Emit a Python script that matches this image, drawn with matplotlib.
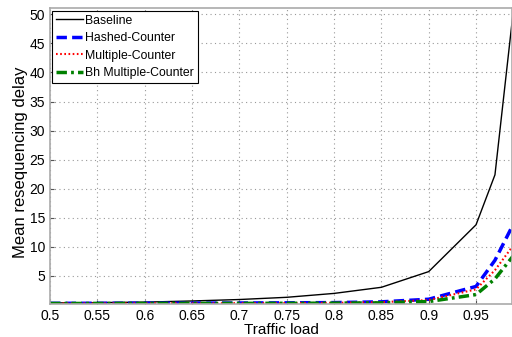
import numpy as np
import matplotlib
matplotlib.use('Agg')
import matplotlib.pyplot as plt

plt.rcParams['font.family'] = ['Liberation Sans', 'DejaVu Sans']

load = [0.5, 0.55, 0.6, 0.65, 0.7, 0.75, 0.8, 0.85, 0.9, 0.95, 0.97, 0.99]
baseline = [0.35, 0.42, 0.5, 0.7, 0.95, 1.33, 2.0, 3.05, 5.75, 13.8, 22.4, 51.5]
hashed = [0.3, 0.3, 0.32, 0.33, 0.35, 0.38, 0.42, 0.55, 1.0, 3.2, 7.7, 14.1]
multiple = [0.28, 0.28, 0.3, 0.3, 0.32, 0.34, 0.38, 0.5, 0.85, 2.7, 6.0, 10.4]
bh_multiple = [0.27, 0.27, 0.28, 0.28, 0.29, 0.3, 0.32, 0.38, 0.6, 1.8, 4.5, 8.6]

xticks = [0.5, 0.55, 0.6, 0.65, 0.7, 0.75, 0.8, 0.85, 0.9, 0.95]
yticks = [5, 10, 15, 20, 25, 30, 35, 40, 45, 50]

fig = plt.figure(figsize=(5.12, 3.37), dpi=100)
ax = fig.add_axes([0.0977, 0.0988, 0.9023, 0.876])

ax.plot(load, baseline, color='black', lw=1.0, label='Baseline')
ax.plot(load, hashed, color='blue', lw=2.5, ls=(0, (3, 1.5)), label='Hashed-Counter')
ax.plot(load, multiple, color='red', lw=1.5, ls=(0, (0.8, 1.2)), label='Multiple-Counter')
ax.plot(load, bh_multiple, color='green', lw=2.5, ls=(0, (3, 1.2, 0.8, 1.2)), label='Bh Multiple-Counter')

ax.set_xlim(0.5, 0.988)
ax.set_ylim(0.23, 51)
ax.set_xticks(xticks)
ax.set_xticklabels([f'{t:g}' for t in xticks])
ax.set_yticks(yticks)
ax.tick_params(direction='in', labelsize=10, length=3, color='#555555')
ax.grid(True, ls=(0, (1, 3)), color='#999999', lw=0.8)
for s in ax.spines.values():
    s.set_color('#aaaaaa')
    s.set_linewidth(1.2)

ax.set_xlabel('Traffic load', fontsize=11, labelpad=0)
ax.set_ylabel('Mean resequencing delay', fontsize=12)
ax.yaxis.set_label_coords(-0.048, 0.48)

leg = ax.legend(loc='upper left', fontsize=8.8, handlelength=2.2, handletextpad=0.2,
                borderpad=0.3, labelspacing=0.45, fancybox=False,
                borderaxespad=0.2, framealpha=1)
leg.get_frame().set_edgecolor('black')
leg.get_frame().set_linewidth(0.8)

fig.savefig('out.png', dpi=100)
